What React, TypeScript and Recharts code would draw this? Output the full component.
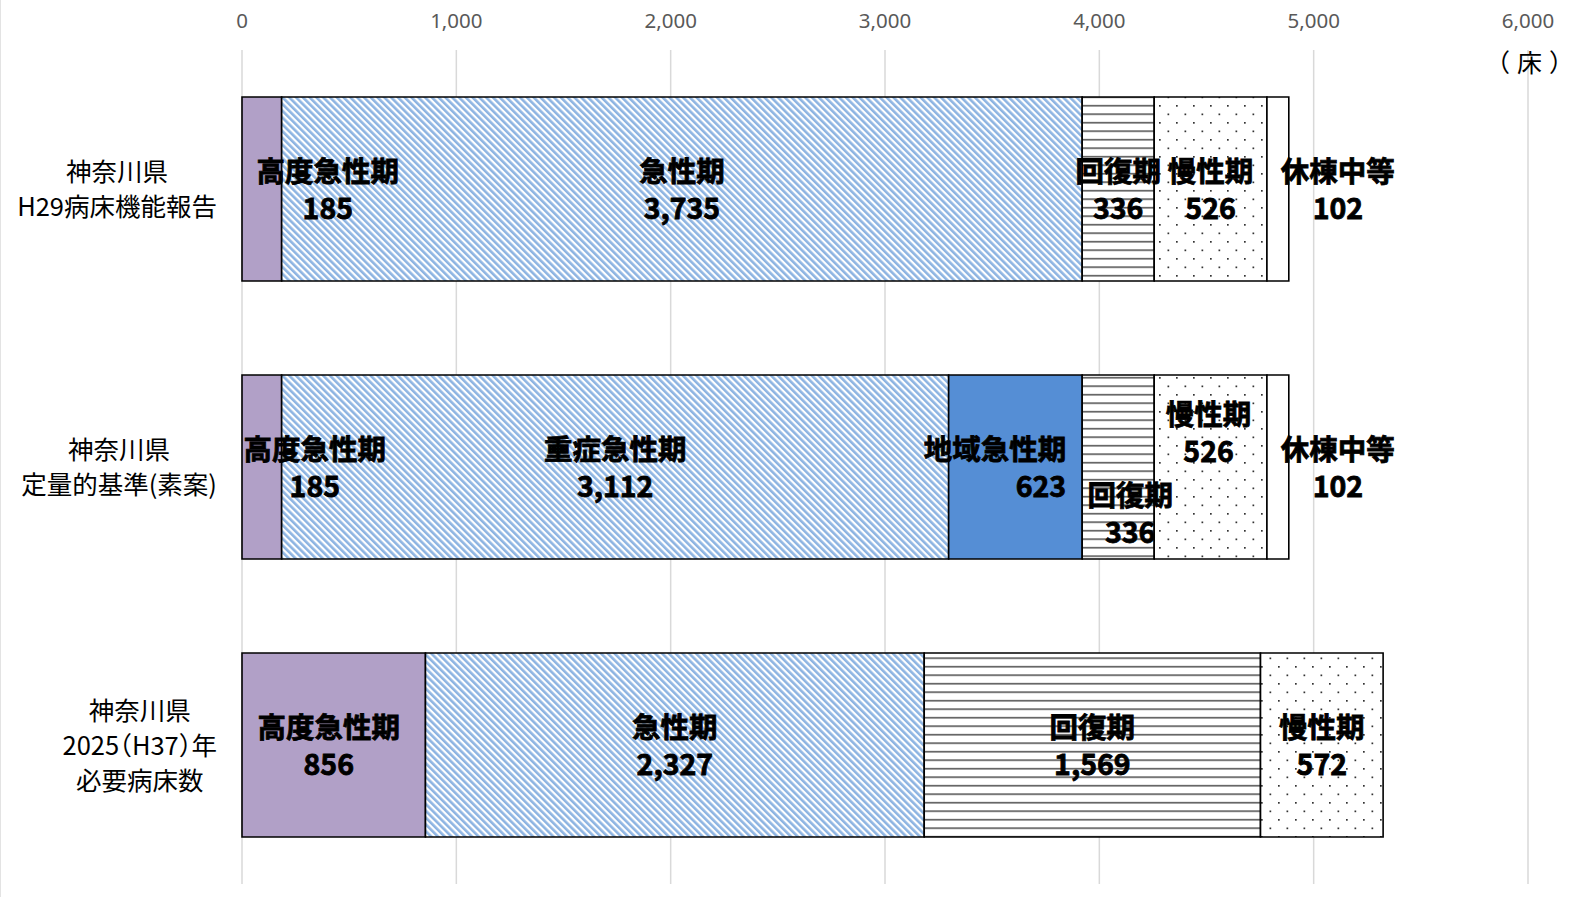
import React from 'react';
import { BarChart, Bar, XAxis, YAxis, CartesianGrid, LabelList } from 'recharts';

const categories = [
  '神奈川県\nH29病床機能報告',
  '神奈川県\n定量的基準(素案)',
  '神奈川県\n2025（H37）年\n必要病床数',
];

const highAcute = [185, 185, 856];
const acute = [3735, 0, 2327];
const severeAcute = [0, 3112, 0];
const regionalAcute = [0, 623, 0];
const recovery = [336, 336, 1569];
const chronic = [526, 526, 572];
const idle = [102, 102, 0];

const xTicks = [0, 1000, 2000, 3000, 4000, 5000, 6000];
const unitLabel = '（床）';

const seriesKeys = ['high', 'acute', 'severe', 'regional', 'recovery', 'chronic', 'idle'];
const seriesNames = ['高度急性期', '急性期', '重症急性期', '地域急性期', '回復期', '慢性期', '休棟中等'];
const seriesValues = [highAcute, acute, severeAcute, regionalAcute, recovery, chronic, idle];
const seriesFills = ['#b1a0c7', 'url(#pStripe)', 'url(#pStripe)', '#558ed5', 'url(#pHLines)', 'url(#pDots)', '#ffffff'];

const data = categories.map((name, i) => {
  const row: any = { name, row: i };
  seriesKeys.forEach((k, s) => {
    row[k] = seriesValues[s][i];
  });
  return row;
});

type Adj = { dx: number; dy: number; anchor?: 'end' };
const labelAdjust: Record<string, Adj[]> = {
  high: [{ dx: 66, dy: 0 }, { dx: 53, dy: 0 }, { dx: -5, dy: 0 }],
  regional: [{ dx: 0, dy: 0 }, { dx: -16, dy: 0, anchor: 'end' }, { dx: 0, dy: 0 }],
  recovery: [{ dx: 0, dy: 0 }, { dx: 12, dy: 46 }, { dx: 0, dy: 0 }],
  chronic: [{ dx: 0, dy: 0 }, { dx: -2, dy: -35 }, { dx: 0, dy: 0 }],
  idle: [{ dx: 60, dy: 0 }, { dx: 60, dy: 0 }, { dx: 0, dy: 0 }],
};

const W = 1594;
const H = 897;
const X_AXIS_H = 40;
const margin = { top: 10, right: 66, bottom: 13, left: 0 };
const JP = '"Noto Sans CJK JP", "Noto Sans", sans-serif';
const CAT_FS = 25.5;

const measureText = (text: string, fs: number) => {
  if (typeof document === 'undefined') return text.length * fs * 0.8;
  const span = document.createElement('span');
  span.style.position = 'absolute';
  span.style.visibility = 'hidden';
  span.style.whiteSpace = 'pre';
  span.style.fontSize = `${fs}px`;
  span.style.fontFamily = JP;
  span.style.fontFeatureSettings = '"halt"';
  span.style.left = '0px';
  span.style.top = '0px';
  span.textContent = text;
  document.body.appendChild(span);
  const w = span.getBoundingClientRect().width;
  span.remove();
  return w;
};

const CategoryTick = (props: any) => {
  const { y, payload } = props;
  const lines = String(payload.value).split('\n');
  const maxW = Math.max(...lines.map((l) => measureText(l, CAT_FS)));
  const cx = 217 - maxW / 2;
  const lineH = 35;
  const startY = y - 2 - ((lines.length - 1) * lineH) / 2;
  return (
    <g>
      {lines.map((l, i) => (
        <text
          key={i}
          x={cx}
          y={startY + i * lineH}
          textAnchor="middle"
          dominantBaseline="central"
          fontSize={CAT_FS}
          fontFamily={JP}
          fill="#000"
          style={{ fontFeatureSettings: '"halt"' }}
        >
          {l}
        </text>
      ))}
    </g>
  );
};

const ValueTick = (props: any) => {
  const { x, payload } = props;
  return (
    <text x={x} y={20} textAnchor="middle" dominantBaseline="central" fontSize={20.5} fontFamily={'"Noto Sans", sans-serif'} fill="#595959">
      {Number(payload.value).toLocaleString('en-US')}
    </text>
  );
};

const rowFromY = (cy: number) => {
  const top = margin.top + X_AXIS_H;
  const band = (H - top - margin.bottom) / categories.length;
  return Math.max(0, Math.min(categories.length - 1, Math.floor((cy - top) / band)));
};

const makeLabel = (key: string, name: string) => (props: any) => {
  const { x, y, width, height, value } = props;
  const v = Number(value);
  if (!v) return null;
  const midY = Number(y) + Number(height) / 2;
  const row =
    props.payload && typeof props.payload.row === 'number' ? props.payload.row : rowFromY(midY);
  const adj = (labelAdjust[key] && labelAdjust[key][row]) || { dx: 0, dy: 0 };
  const cy = midY + adj.dy;
  let tx: number;
  let anchor: 'middle' | 'end';
  if (adj.anchor === 'end') {
    tx = Number(x) + Number(width) + adj.dx;
    anchor = 'end';
  } else {
    tx = Number(x) + Number(width) / 2 + adj.dx;
    anchor = 'middle';
  }
  const common = {
    textAnchor: anchor,
    dominantBaseline: 'central' as const,
    fontSize: 28.5,
    fontWeight: 700,
    fontFamily: JP,
    fill: '#000',
    stroke: '#000',
    strokeWidth: 0.8,
  };
  return (
    <g>
      <text x={tx} y={cy - 19.5} {...common}>
        {name}
      </text>
      <text x={tx} y={cy + 17.5} {...common}>
        {v.toLocaleString('en-US')}
      </text>
    </g>
  );
};

export default function App() {
  return (
    <div
      style={{
        position: 'fixed',
        left: 0,
        top: 0,
        width: W,
        height: H,
        background: '#fff',
        overflow: 'hidden',
      }}
    >
      <style>{`html,body{margin:0;padding:0;overflow:hidden;}`}</style>
      <div style={{ position: 'absolute', left: 0, top: 0 }}>
        <BarChart width={W} height={H} data={data} layout="vertical" margin={margin}>
          <defs>
            <pattern id="pStripe" width="4.8" height="4.8" patternUnits="userSpaceOnUse" patternTransform="rotate(-45)">
              <rect width="4.8" height="4.8" fill="#ffffff" />
              <rect width="2.6" height="4.8" fill="#8db4e2" />
            </pattern>
            <pattern id="pHLines" width="10" height="8.5" patternUnits="userSpaceOnUse">
              <rect width="10" height="8.5" fill="#ffffff" />
              <rect y="3" width="10" height="1.4" fill="#404040" />
            </pattern>
            <pattern id="pDots" width="17" height="17" patternUnits="userSpaceOnUse">
              <rect width="17" height="17" fill="#ffffff" />
              <rect x="3" y="3" width="1.7" height="1.7" fill="#333333" />
              <rect x="11.5" y="11.5" width="1.7" height="1.7" fill="#333333" />
            </pattern>
          </defs>
          <CartesianGrid horizontal={false} stroke="#d9d9d9" strokeWidth={1.5} />
          <XAxis
            type="number"
            orientation="top"
            domain={[0, 6000]}
            ticks={xTicks}
            axisLine={false}
            tickLine={false}
            height={X_AXIS_H}
            tick={<ValueTick />}
            interval={0}
          />
          <YAxis
            type="category"
            dataKey="name"
            width={242}
            axisLine={false}
            tickLine={false}
            tick={<CategoryTick />}
            interval={0}
          />
          {seriesKeys.map((k, s) => (
            <Bar
              key={k}
              dataKey={k}
              stackId="a"
              barSize={184}
              fill={seriesFills[s]}
              stroke="#000"
              strokeWidth={1.6}
              isAnimationActive={false}
            />
          ))}
        </BarChart>
      </div>
      <div style={{ position: 'absolute', left: 0, top: 0, pointerEvents: 'none' }}>
        <BarChart width={W} height={H} data={data} layout="vertical" margin={margin}>
          <XAxis type="number" orientation="top" domain={[0, 6000]} ticks={xTicks} axisLine={false} tickLine={false} height={X_AXIS_H} tick={false} />
          <YAxis type="category" dataKey="name" width={242} axisLine={false} tickLine={false} tick={false} />
          {seriesKeys.map((k, s) => (
            <Bar key={k} dataKey={k} stackId="a" barSize={184} fill="none" stroke="none" isAnimationActive={false}>
              <LabelList dataKey={k} content={makeLabel(k, seriesNames[s])} />
            </Bar>
          ))}
        </BarChart>
      </div>
      <svg style={{ position: 'absolute', left: 0, top: 0, pointerEvents: 'none' }} width={W} height={H}>
        <text x={1485} y={61} textAnchor="start" dominantBaseline="central" fontSize={25} letterSpacing={7} fontFamily={JP} fill="#000">
          {unitLabel}
        </text>
      </svg>
      <div style={{ position: 'absolute', left: 0, top: 0, width: 1, height: H, background: '#e3e3e3' }} />
    </div>
  );
}
